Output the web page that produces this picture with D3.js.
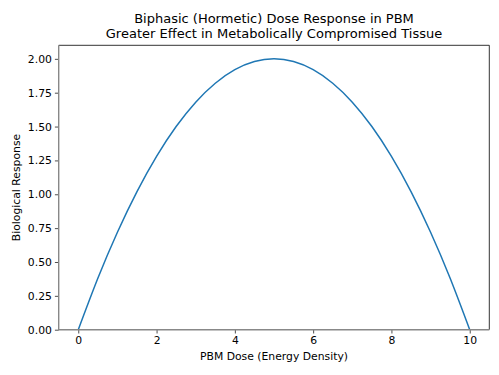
<!DOCTYPE html>
<html><head><meta charset="utf-8">
<script src="https://cdn.jsdelivr.net/npm/d3@7"></script>
<style>body{margin:0;background:#fff}svg{display:block}text{font-family:"DejaVu Sans",sans-serif;fill:#000}</style>
</head><body><svg id="c" width="499" height="375"></svg>
<script>
const doses = [0,0.5,1,1.5,2,2.5,3,3.5,4,4.5,5,5.5,6,6.5,7,7.5,8,8.5,9,9.5,10];
const responses = [0,0.38,0.72,1.02,1.28,1.5,1.68,1.82,1.92,1.98,2.0,1.98,1.92,1.82,1.68,1.5,1.28,1.02,0.72,0.38,0];
const xTicks = [0,2,4,6,8,10];
const yTicks = [0,0.25,0.5,0.75,1.0,1.25,1.5,1.75,2.0];
const titleLines = ["Biphasic (Hormetic) Dose Response in PBM","Greater Effect in Metabolically Compromised Tissue"];

const L=58.7,R=489.3,T=45.3,B=329.7;
const x=d3.scaleLinear().domain([-0.5,10.5]).range([L,R]);
const y=d3.scaleLinear().domain([0,2.1]).range([B,T]);
const svg=d3.select("#c");

svg.append("path").datum(doses.map((d,i)=>[d,responses[i]]))
 .attr("fill","none").attr("stroke","#1f77b4").attr("stroke-width",1.5)
 .attr("d",d3.line().x(d=>x(d[0])).y(d=>y(d[1])).curve(d3.curveNatural));

const xa=svg.append("g").attr("transform",`translate(0,${B})`)
 .call(d3.axisBottom(x).tickValues(xTicks).tickFormat(d3.format("d")).tickSize(3.8).tickPadding(3));
const ya=svg.append("g").attr("transform",`translate(${L},0)`)
 .call(d3.axisLeft(y).tickValues(yTicks).tickFormat(d3.format(".2f")).tickSize(3.8).tickPadding(3));
[xa,ya].forEach(a=>{a.select(".domain").remove();a.selectAll("text").style("font-size","10.8px").style("font-family","DejaVu Sans").attr("fill","#000");a.selectAll("line").attr("stroke","#000").attr("stroke-width",0.7);});

svg.append("path").attr("d",`M${L},${T}H${R}V${B}`).attr("fill","none").attr("stroke","#000").attr("stroke-width",0.8);
svg.append("path").attr("d",`M${L},${T}V${B}H${R}`).attr("fill","none").attr("stroke","#888").attr("stroke-width",1.4);

svg.append("text").attr("x",(L+R)/2).attr("y",360).attr("text-anchor","middle").style("font-size","10.8px").text("PBM Dose (Energy Density)");
svg.append("text").attr("transform",`translate(20,${(T+B)/2}) rotate(-90)`).attr("text-anchor","middle").style("font-size","10.8px").text("Biological Response");
titleLines.forEach((t,i)=>svg.append("text").attr("x",(L+R)/2).attr("y",22.5+i*15.2).attr("text-anchor","middle").style("font-size","13px").text(t));
</script></body></html>
